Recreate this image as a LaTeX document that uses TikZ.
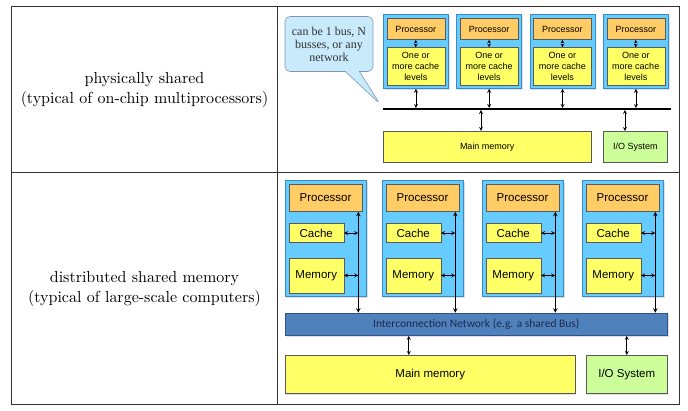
\documentclass[tikz,border=0pt]{standalone}
\usepackage{fontspec}
\newfontfamily\arialfont{Liberation Sans}
\newfontfamily\romanfont{Liberation Serif}
\newfontfamily\calibfont{Carlito}
\newfontfamily\lmten{lmroman10-regular.otf}
\usetikzlibrary{arrows,shapes.callouts,shadows,calc,positioning}

\definecolor{unitblue}{HTML}{66CCFF}
\definecolor{unitedge}{HTML}{3A8CC4}
\definecolor{procorange}{HTML}{FFCC66}
\definecolor{memyellow}{HTML}{FFFF66}
\definecolor{iogreen}{HTML}{CCFF99}
\definecolor{netblue}{HTML}{4F81BD}
\definecolor{netedge}{HTML}{2F528F}
\definecolor{nettext}{HTML}{1C2B4A}
\definecolor{calloutblue}{HTML}{C8EAFB}
\definecolor{calloutedge}{HTML}{7A9AB5}

\begin{document}
\begin{tikzpicture}[x=1pt,y=-1pt,
    tableline/.style={draw=black!80, line width=0.8pt},
    faint/.style={drop shadow={shadow xshift=1.2pt, shadow yshift=-1.2pt, opacity=0.25}},
    unitbox/.style={draw=unitedge, fill=unitblue, line width=0.8pt, inner sep=0pt, anchor=north west, faint},
    procbox/.style={draw=gray!70!black, fill=procorange, line width=0.5pt, inner sep=0pt, anchor=north west},
    membox/.style={draw=gray!70!black, fill=memyellow, line width=0.5pt, inner sep=0pt, anchor=north west, align=center},
    iobox/.style={draw=gray!70!black, fill=iogreen, line width=0.5pt, inner sep=0pt, anchor=north west, faint},
    netbox/.style={draw=netedge, fill=netblue, line width=0.6pt, inner sep=0pt, anchor=north west, faint},
    dar/.style={<->, >=stealth, line width=0.8pt},
    small/.style={font=\arialfont\fontsize{9}{11}\selectfont},
    large/.style={font=\arialfont\fontsize{11.5}{13}\selectfont},
    note/.style={rectangle callout, draw=calloutedge, fill=calloutblue, line width=0.6pt,
      rounded corners=5pt, minimum width=88, minimum height=55, inner sep=0pt,
      callout absolute pointer={(380,104)}, callout pointer width=14pt, align=center,
      text=black!80, font=\romanfont\fontsize{12}{13}\selectfont},
    rowtext/.style={align=center, font=\lmten\fontsize{16}{20}\selectfont}]
  \useasboundingbox (0,0) rectangle (688,411);

  % table
  \draw[tableline] (11.7,6.7) rectangle (679,404.5);
  \draw[tableline] (277,6.7) -- (277,404.5);
  \draw[tableline] (11.7,172) -- (679,172);
  \node[rowtext] (physical) at (144.5,89.5) {physically shared\\(typical of on-chip multiprocessors)};
  \node[rowtext] (distributed) at (144.5,288.5) {distributed shared memory\\(typical of large-scale computers)};

  % physically shared
  \coordinate (busL) at (383,109);
  \coordinate (busR) at (671,109);
  \draw[line width=2.2pt] (busL) -- (busR);
  \node[note] (busnote) at (329,44) {can be 1 bus, N\\busses, or any\\network};
  \foreach \i/\x in {1/383,2/456.3,3/529.7,4/603}{
    \node[unitbox, minimum width=65, minimum height=74] (tu\i) at (\x,14) {};
    \node[procbox, small, minimum width=58, minimum height=21] (tp\i) at (\x+3.5,18.3) {Processor};
    \node[membox, small, minimum width=58, minimum height=38] (tc\i) at (\x+3.5,47.3) {One or\\more cache\\levels};
    \draw[dar, densely dotted, line width=0.6pt] (tp\i) -- (tc\i);
    \draw[dar, shorten >=1pt] (tu\i.south) -- (tu\i.south |- busL);
  }
  \node[membox, small, minimum width=208, minimum height=31, faint] (tmm) at (383,131) {Main memory};
  \node[iobox, small, minimum width=64, minimum height=31] (tio) at (603,131) {I/O System};
  \coordinate (tma) at ($(tmm.north west)!0.47!(tmm.north east)$);
  \coordinate (tia) at ($(tio.north west)!0.34!(tio.north east)$);
  \draw[dar, shorten <=1pt] (tma |- busL) -- (tma);
  \draw[dar, shorten <=1pt] (tia |- busL) -- (tia);

  % distributed shared memory
  \node[netbox, minimum width=382, minimum height=22.5, text=nettext,
    font=\calibfont\fontsize{11.5}{13}\selectfont] (net) at (285,312.7) {Interconnection Network (e.g. a shared Bus)};
  \foreach \i/\x in {1/285,2/382,3/482,4/582}{
    \node[unitbox, minimum width=81, minimum height=116] (bu\i) at (\x,180) {};
    \node[procbox, large, minimum width=73.5, minimum height=27] (bp\i) at (\x+3.5,184.3) {Processor};
    \node[membox, large, minimum width=55, minimum height=19] (bc\i) at (\x+3.5,223.3) {Cache};
    \node[membox, large, minimum width=55, minimum height=35] (bm\i) at (\x+3.5,257.7) {Memory};
    \coordinate (bv\i) at ($(bp\i.south west)+(69.8,0)$);
    \draw[dar, line width=1pt] (bv\i) -- (bv\i |- net.north);
    \draw[dar] (bc\i.east) -- (bc\i.east -| bv\i);
    \draw[dar] (bm\i.east) -- (bm\i.east -| bv\i);
  }
  \node[membox, large, minimum width=290, minimum height=38.5, faint] (bmm) at (285,355) {Main memory};
  \node[iobox, large, minimum width=81, minimum height=38.5] (bio) at (586,355) {I/O System};
  \coordinate (bma) at ($(bmm.north west)!0.426!(bmm.north east)$);
  \draw[dar] (bma |- net.south) -- (bma);
  \draw[dar] (bio.north |- net.south) -- (bio.north);
\end{tikzpicture}
\end{document}
